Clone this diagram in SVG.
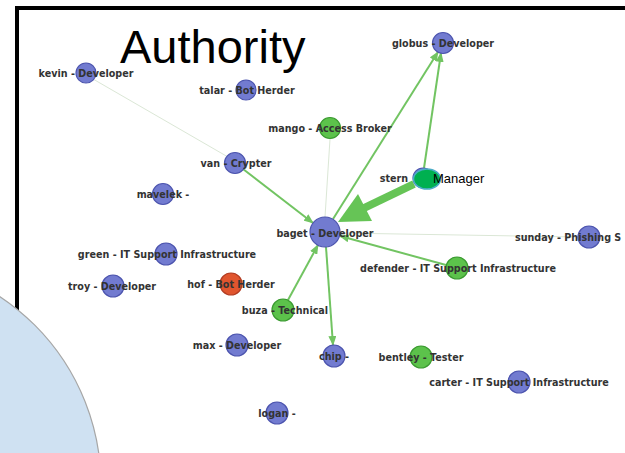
<svg xmlns="http://www.w3.org/2000/svg" width="625" height="453" viewBox="0 0 625 453">
  <style>
    .lbl { font-family: "DejaVu Sans", Verdana, sans-serif; font-weight: bold; font-size: 9.6px; fill: #333333; text-anchor: middle; }
    .blue { fill: #727bd0; stroke: #4c54ae; stroke-width: 1.2; }
    .green { fill: #5cc24b; stroke: #3a9a30; stroke-width: 1.2; }
    .red { fill: #e0552e; stroke: #b23c22; stroke-width: 1.2; }
    .edge { stroke: #72c462; stroke-width: 2; fill: none; }
    .faint { stroke: #dbe7d6; stroke-width: 1; fill: none; }
    .title { font-family: "Liberation Sans", Arial, sans-serif; font-size: 47px; fill: #000; }
  </style>
  <defs>
    <marker id="arr" viewBox="0 0 10 8" refX="9" refY="4" markerWidth="10" markerHeight="8" markerUnits="userSpaceOnUse" orient="auto">
      <path d="M0,0 L10,4 L0,8 Z" fill="#72c462"/>
    </marker>
  </defs>

  <rect width="625" height="453" fill="#ffffff"/>

  <!-- frame -->
  <path d="M17,453 L17,8 L625,8" fill="none" stroke="#000" stroke-width="4"/>

  <!-- title -->
  <text class="title" x="120" y="63">Authority</text>

  <!-- connectors -->
  <g id="connectors">
    <line class="faint" x1="93" y1="79" x2="228" y2="157"/>
    <line class="faint" x1="330" y1="139" x2="325" y2="217"/>
    <line class="faint" x1="578" y1="237" x2="340" y2="233"/>
    <line class="edge" x1="243" y1="169" x2="313" y2="223" marker-end="url(#arr)"/>
    <line class="edge" x1="333" y1="219" x2="438" y2="52" marker-end="url(#arr)"/>
    <line class="edge" x1="424" y1="168" x2="441" y2="53" marker-end="url(#arr)"/>
    <line class="edge" stroke-width="2.5" x1="446" y1="265" x2="340" y2="236" marker-end="url(#arr)"/>
    <line class="edge" x1="288" y1="300" x2="318" y2="245" marker-end="url(#arr)"/>
    <line class="edge" stroke-width="1.4" x1="326" y1="247" x2="333" y2="345" marker-end="url(#arr)"/>
    <!-- heavy stern -> baget edge -->
    <line x1="414" y1="184" x2="362" y2="209" stroke="#66c456" stroke-width="8"/>
    <polygon points="338,222 372,221 358,194" fill="#66c456"/>
  </g>

  <!-- nodes -->
  <g id="kevin"><circle class="blue" cx="86" cy="73" r="10"/><text class="lbl" x="86" y="77">kevin - Developer</text></g>
  <g id="talar"><circle class="blue" cx="246" cy="90" r="10"/><text class="lbl" x="247" y="94">talar - Bot Herder</text></g>
  <g id="globus"><circle class="blue" cx="443" cy="43" r="10.5"/><text class="lbl" x="443" y="47">globus - Developer</text></g>
  <g id="mango"><circle class="green" cx="330" cy="128" r="10.5"/><text class="lbl" x="330" y="132">mango - Access Broker</text></g>
  <g id="van"><circle class="blue" cx="235" cy="163" r="10.5"/><text class="lbl" x="236" y="167">van - Crypter</text></g>
  <g id="mavelek"><circle class="blue" cx="163" cy="194" r="10.5"/><text class="lbl" x="163" y="198">mavelek -</text></g>
  <g id="baget"><circle class="blue" cx="325" cy="232" r="15"/><text class="lbl" x="325" y="237">baget - Developer</text></g>
  <g id="stern">
    <circle class="blue" cx="423" cy="178" r="10"/>
    <text class="lbl" x="394" y="182">stern</text>
    <ellipse cx="427" cy="179" rx="13.5" ry="10" fill="#00b050" stroke="#4bacc6" stroke-width="1.5"/>
    <text x="433" y="183" font-family="Liberation Sans, Arial, sans-serif" font-size="13" fill="#000">Manager</text>
  </g>
  <g id="sunday"><circle class="blue" cx="589" cy="237" r="11"/><text class="lbl" x="515" y="241" style="text-anchor:start">sunday - Phishing S</text></g>
  <g id="defender"><circle class="green" cx="457" cy="268" r="11"/><text class="lbl" x="458" y="272">defender - IT Support Infrastructure</text></g>
  <g id="green"><circle class="blue" cx="166" cy="254" r="11"/><text class="lbl" x="167" y="258">green - IT Support Infrastructure</text></g>
  <g id="troy"><circle class="blue" cx="113" cy="286" r="11"/><text class="lbl" x="112" y="290">troy - Developer</text></g>
  <g id="hof"><circle class="red" cx="231" cy="284" r="11"/><text class="lbl" x="231" y="288">hof - Bot Herder</text></g>
  <g id="buza"><circle class="green" cx="283" cy="310" r="11"/><text class="lbl" x="285" y="314">buza - Technical</text></g>
  <g id="max"><circle class="blue" cx="237" cy="345" r="11"/><text class="lbl" x="237" y="349">max - Developer</text></g>
  <g id="chip"><circle class="blue" cx="334" cy="356" r="11"/><text class="lbl" x="334" y="360">chip -</text></g>
  <g id="bentley"><circle class="green" cx="421" cy="357" r="11"/><text class="lbl" x="421" y="361">bentley - Tester</text></g>
  <g id="carter"><circle class="blue" cx="519" cy="382" r="11"/><text class="lbl" x="519" y="386">carter - IT Support Infrastructure</text></g>
  <g id="logan"><circle class="blue" cx="277" cy="413" r="11"/><text class="lbl" x="277" y="417">logan -</text></g>

  <!-- corner disc -->
  <circle cx="-125" cy="485" r="226" fill="#cfe1f2" stroke="#a6a6a6" stroke-width="1.2"/>
</svg>
